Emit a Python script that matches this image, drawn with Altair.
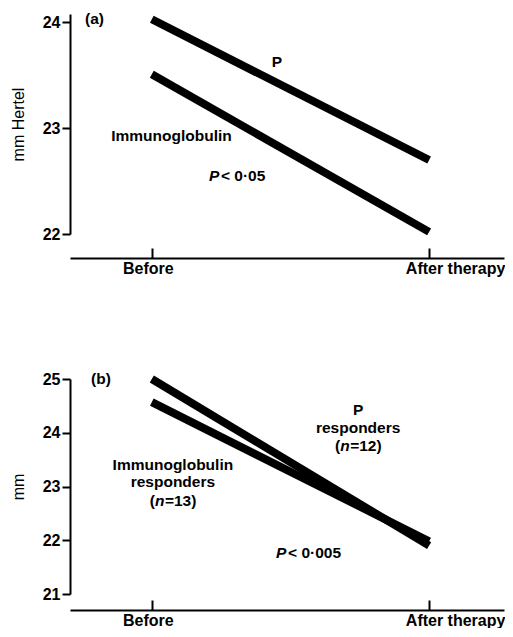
import altair as alt
import pandas as pd

# ---------------- data ----------------
stages = ["Before", "After therapy"]
stage_pos = [0, 1]

a_p = [24.03, 22.70]
a_ig = [23.51, 22.02]
b_p = [25.00, 21.90]
b_ig = [24.57, 21.98]

a_ticks = [22, 23, 24]
b_ticks = [21, 22, 23, 24, 25]

# annotation anchors in data units (x on stage axis, y in mm)
a_center = [("P", 0.451, 23.626), ("Immunoglobulin", 0.071, 22.927)]
a_left = [("(a)", -0.241, 24.037)]
a_pval = [("< 0·05", 0.206, 22.55)]

b_center = [("P", 0.744, 24.423), ("responders", 0.744, 24.088),
            ("Immunoglobulin", 0.076, 23.40), ("responders", 0.076, 23.084)]
b_left = [("(b)", -0.219, 25.0)]
b_n = [("=12)", 0.744, 23.753), ("=13)", 0.076, 22.73)]
b_pval = [("< 0·005", 0.448, 21.763)]

FONT = "Liberation Sans"
XDOM = [-0.295, 1.27]
label_expr = "[" + ",".join("'" + s + "'" for s in stages) + "][datum.value]"


def tdf(rows):
    return pd.DataFrame(rows, columns=["text", "x", "y"])


def panel(p_vals, ig_vals, ydom, yticks, ytitle, h, off, center, left, pval, nrows=None):
    lines = pd.DataFrame({
        "x": stage_pos * 2,
        "y": list(p_vals) + list(ig_vals),
        "g": ["P"] * 2 + ["Immunoglobulin"] * 2,
    })
    yscale = alt.Scale(domain=ydom, nice=False, zero=False)
    xscale = alt.Scale(domain=XDOM, nice=False, zero=False)
    yaxis = alt.Axis(values=yticks, tickCount=20, title=ytitle,
                     labelExpr="round(datum.value) + ''",
                     labelOverlap=False,
                     labelFont=FONT, labelFontSize=16, labelFontWeight="bold",
                     titleFont=FONT, titleFontSize=16, titleFontWeight="normal",
                     titlePadding=16, labelPadding=2, tickSize=8, tickWidth=2, domainWidth=2)
    yenc = alt.Y("y:Q", scale=yscale, axis=yaxis)

    line = alt.Chart(lines).mark_line(color="black", strokeWidth=8, strokeCap="butt", clip=False).encode(
        x=alt.X("x:Q", scale=xscale,
                axis=alt.Axis(values=stage_pos, labelExpr=label_expr, ticks=False, tickSize=0,
                              offset=off, orient="bottom", title=None, labelPadding=2,
                              labelOffset={"condition": {"test": "datum.value == 1", "value": 26}, "value": -4},
                              labelFontSize=16, labelFontWeight="bold", labelFont=FONT,
                              domainWidth=2, domainColor="black", labelColor="black")),
        y=yenc,
        detail="g:N",
    )
    tick_layer = alt.Chart(pd.DataFrame({"x": stage_pos, "y": [ydom[0]] * 2})).mark_point(opacity=0).encode(
        x=alt.X("x:Q", scale=xscale,
                axis=alt.Axis(values=stage_pos, labels=False, domain=False, ticks=True, tickSize=10,
                              tickWidth=2, tickColor="black", offset=off - 10, orient="bottom", title=None)),
        y=yenc,
    )
    xnone = alt.X("x:Q", scale=xscale, axis=None)
    base_txt = dict(font=FONT, fontSize=15.5, fontWeight="bold", color="black", baseline="middle")
    layers = [line, tick_layer]
    layers.append(alt.Chart(tdf(center)).mark_text(align="center", **base_txt).encode(x=xnone, y=yenc, text="text:N"))
    layers.append(alt.Chart(tdf(left)).mark_text(align="left", **base_txt).encode(x=xnone, y=yenc, text="text:N"))
    pdf = tdf(pval)
    layers.append(alt.Chart(pdf).mark_text(align="left", fontStyle="italic", **base_txt).encode(
        x=xnone, y=yenc, text=alt.value("P")))
    layers.append(alt.Chart(pdf).mark_text(align="left", dx=12, **base_txt).encode(x=xnone, y=yenc, text="text:N"))
    if nrows:
        ndf = tdf(nrows)
        layers.append(alt.Chart(ndf).mark_text(align="right", dx=-18, **base_txt).encode(
            x=xnone, y=yenc, text=alt.value("(")))
        layers.append(alt.Chart(ndf).mark_text(align="left", dx=-18, fontStyle="italic", **base_txt).encode(
            x=xnone, y=yenc, text=alt.value("n")))
        layers.append(alt.Chart(ndf).mark_text(align="left", dx=-8, **base_txt).encode(
            x=xnone, y=yenc, text="text:N"))
    return alt.layer(*layers).resolve_axis(x="independent").properties(width=434, height=h)


pa = panel(a_p, a_ig, [22, 24.08], a_ticks, "mm Hertel", 220, 24, a_center, a_left, a_pval)
pb = panel(b_p, b_ig, [21, 25.0], b_ticks, "mm", 215, 16, b_center, b_left, b_pval, b_n)

chart = alt.vconcat(pa, pb, spacing=87).properties(
    padding={"left": 2, "top": -5, "right": 0, "bottom": 0}
).configure_view(stroke=None).configure_axis(
    grid=False, domainColor="black", tickColor="black", labelColor="black", titleColor="black",
)

chart.save("out.html", embed_options={"renderer": "svg", "actions": False})
